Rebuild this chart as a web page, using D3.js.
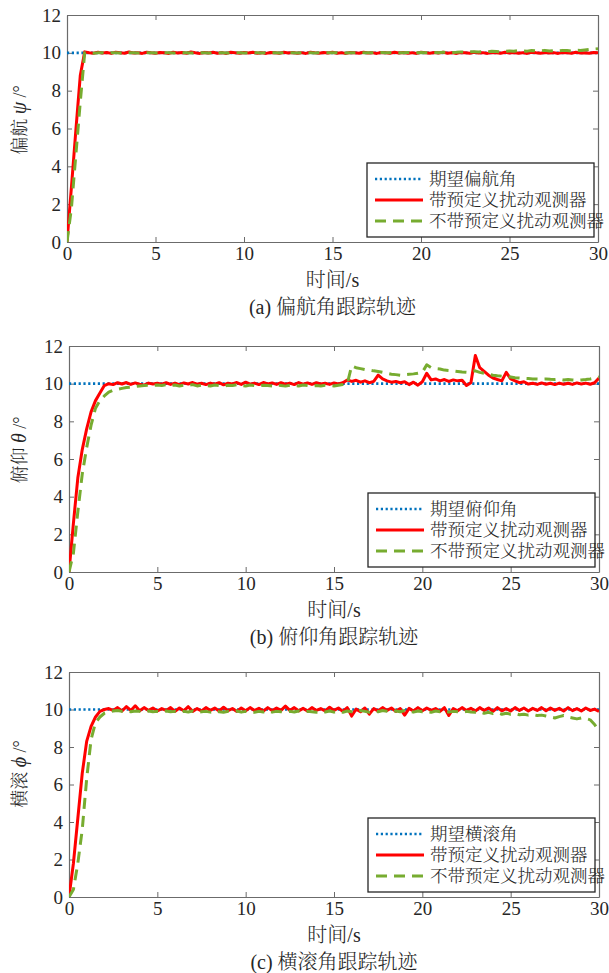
<!DOCTYPE html>
<html>
<head>
<meta charset="utf-8">
<script src="https://cdn.jsdelivr.net/npm/d3@7"></script>
<style>
  body { margin: 0; background: #fff; }
</style>
</head>
<body>
<script>
// sampling grid: 0..30 s every 0.25 s
const time = d3.range(0, 30.001, 0.25);

const xTicks = [0, 5, 10, 15, 20, 25, 30];
const yTicks = [0, 2, 4, 6, 8, 10, 12];
const desired = 10;

// (a) yaw
const yawWith = [
  0, 2.9, 5.9, 8.8, 10.05, 10.0, 9.98, 10.03, 9.99, 10.02,
  9.97, 10.03, 10.0, 9.98, 10.04, 9.99, 10.01, 9.97, 10.03, 10.0,
  9.98, 10.02, 10.0, 9.97, 10.03, 9.99, 10.02, 9.98, 10.04, 10.0,
  9.97, 10.02, 9.99, 10.03, 9.98, 10.01, 9.97, 10.03, 10.0, 9.98,
  10.02, 9.99, 10.03, 9.98, 10.01, 9.97, 10.02, 10.0, 9.98, 10.03,
  9.99, 10.02, 9.98, 10.01, 9.97, 10.03, 10.0, 9.98, 10.02, 9.99,
  10.03, 9.98, 10.01, 9.97, 10.02, 10.0, 9.98, 10.03, 9.99, 10.01,
  9.97, 10.02, 10.0, 9.98, 10.03, 9.99, 10.02, 9.98, 10.01, 9.97,
  10.03, 10.0, 9.98, 10.02, 9.99, 10.03, 9.98, 10.01, 9.97, 10.02,
  10.0, 9.98, 10.03, 9.99, 10.01, 9.97, 10.02, 10.0, 9.98, 10.03,
  9.99, 10.02, 9.98, 10.01, 9.97, 10.03, 10.0, 9.98, 10.02, 9.99,
  10.01, 9.97, 10.02, 10.0, 9.98, 10.03, 9.99, 10.01, 9.98, 10.02, 10.0
];
const yawWithout = [
  0, 1.8, 4.6, 7.4, 10.0, 10.0, 9.98, 10.0, 10.01, 9.99,
  10.0, 10.01, 9.99, 10.0, 10.01, 10.0, 9.99, 10.0, 10.01, 10.0,
  9.99, 10.0, 10.01, 10.0, 9.99, 10.0, 10.01, 10.0, 9.99, 10.0,
  10.01, 10.0, 9.99, 10.0, 10.01, 10.0, 9.99, 10.0, 10.01, 10.0,
  9.99, 10.0, 10.01, 10.0, 9.99, 10.0, 10.01, 10.0, 9.99, 10.0,
  10.01, 10.0, 9.99, 10.0, 10.01, 10.0, 9.99, 10.0, 10.01, 10.0,
  10.0, 10.01, 10.0, 9.99, 10.0, 10.01, 10.0, 10.0, 10.01, 10.0,
  10.01, 10.02, 10.0, 10.01, 10.02, 10.0, 10.01, 10.02, 10.01, 10.0,
  10.02, 10.01, 10.03, 10.02, 10.01, 10.03, 10.04, 10.02, 10.03, 10.05,
  10.04, 10.05, 10.06, 10.05, 10.07, 10.06, 10.08, 10.07, 10.06, 10.08,
  10.1, 10.08, 10.12, 10.1, 10.09, 10.12, 10.1, 10.11, 10.13, 10.1,
  10.12, 10.1, 10.13, 10.12, 10.1, 10.14, 10.12, 10.15, 10.18, 10.2, 10.22
];

// (b) pitch
const pitchWith = [
  0, 2.6, 5.0, 6.5, 7.6, 8.5, 9.1, 9.5, 9.9, 10.0,
  9.95, 10.05, 9.98, 10.06, 9.96, 10.04, 9.97, 9.92, 10.03, 9.98,
  10.02, 9.97, 10.05, 9.96, 10.03, 9.95, 10.04, 9.98, 10.06, 9.97,
  10.02, 9.95, 10.03, 9.97, 10.05, 9.94, 10.02, 9.98, 10.06, 9.96,
  10.08, 9.97, 10.03, 9.95, 10.06, 9.98, 10.04, 9.96, 10.05, 9.97,
  10.03, 9.95, 10.06, 9.97, 10.04, 9.96, 10.05, 9.98, 10.02, 9.96,
  10.04, 9.98, 10.05, 10.2, 10.12, 10.18, 10.08, 10.15, 10.05, 10.12,
  10.45, 10.25, 10.15, 10.08, 10.12, 10.05, 10.1, 9.95, 10.08, 9.92,
  10.1, 10.55, 10.2, 10.25, 10.15, 10.22, 10.12, 10.2, 10.15, 10.18,
  9.9, 10.05, 11.5, 10.85, 10.65, 10.45, 10.3, 10.22, 10.15, 10.6,
  10.25, 10.15, 10.05, 10.1, 9.98, 10.02, 9.96, 10.04, 9.97, 10.02,
  9.95, 10.03, 9.97, 10.02, 9.96, 10.04, 9.98, 10.03, 9.97, 10.05, 10.3
];
const pitchWithout = [
  0, 1.0, 3.2, 5.2, 6.6, 7.8, 8.7, 9.1, 9.35, 9.55,
  9.65, 9.7, 9.75, 9.8, 9.82, 9.85, 9.88, 9.9, 9.92, 9.9,
  9.93, 9.9, 9.95, 9.9, 9.93, 9.88, 9.92, 9.9, 9.95, 9.88,
  9.92, 9.9, 9.88, 9.93, 9.9, 9.87, 9.92, 9.9, 9.95, 9.9,
  9.88, 9.93, 9.9, 9.87, 9.92, 9.9, 9.88, 9.93, 9.9, 9.87,
  9.92, 9.9, 9.88, 9.93, 9.9, 9.87, 9.9, 9.88, 9.92, 9.9,
  9.88, 9.92, 9.95, 10.0, 10.95, 10.85, 10.8, 10.75, 10.72, 10.68,
  10.65, 10.6, 10.55, 10.5, 10.48, 10.45, 10.47, 10.5, 10.52, 10.55,
  10.6, 11.0, 10.85, 10.8, 10.78, 10.72, 10.7, 10.68, 10.65, 10.62,
  10.6, 10.65, 10.68, 10.6, 10.55, 10.5, 10.45, 10.42, 10.4, 10.38,
  10.35, 10.32, 10.3, 10.28, 10.27, 10.25, 10.25, 10.24, 10.25, 10.23,
  10.22, 10.24, 10.2, 10.22, 10.2, 10.18, 10.2, 10.22, 10.25, 10.3, 10.35
];

// (c) roll
const rollWith = [
  0, 1.8, 4.2, 6.6, 8.3, 9.1, 9.6, 9.9, 10.0, 10.05,
  9.95, 10.1, 9.92, 10.15, 9.95, 10.2, 9.93, 10.1, 9.95, 10.08,
  9.92, 10.05, 9.95, 10.1, 9.9, 10.08, 9.93, 10.15, 9.9, 10.05,
  9.92, 10.1, 9.95, 10.08, 9.92, 10.12, 9.94, 10.05, 9.9, 10.08,
  9.93, 10.1, 9.95, 10.06, 9.92, 10.1, 9.94, 10.08, 9.95, 10.18,
  9.95, 10.1, 9.93, 10.06, 9.92, 10.1, 9.95, 10.05, 9.93, 10.12,
  9.95, 10.08, 9.9, 10.1, 9.65, 10.02, 9.88, 10.08, 9.75, 10.05,
  9.93, 10.1, 9.95, 10.08, 9.9, 10.05, 9.7, 10.06, 9.92, 10.1,
  9.93, 10.08, 9.95, 10.05, 9.9, 10.1, 9.68, 10.05, 9.93, 10.1,
  9.95, 10.06, 9.92, 10.1, 9.95, 10.08, 9.9, 10.1, 9.93, 10.05,
  9.92, 10.1, 9.95, 10.08, 9.92, 10.06, 9.95, 10.1, 9.93, 10.08,
  9.95, 10.06, 9.92, 10.1, 9.94, 10.05, 9.92, 10.08, 9.95, 10.02, 9.9
];
const rollWithout = [
  0, 0.4, 1.8, 3.6, 6.3, 8.4, 9.3, 9.6, 9.8, 9.88,
  9.92, 9.95, 9.9, 9.93, 9.88, 9.92, 9.9, 9.85, 9.92, 9.88,
  9.9, 9.85, 9.92, 9.88, 9.9, 9.85, 9.9, 9.87, 9.92, 9.85,
  9.88, 9.9, 9.86, 9.92, 9.88, 9.85, 9.9, 9.87, 9.92, 9.86,
  9.9, 9.88, 9.85, 9.9, 9.87, 9.92, 9.86, 9.9, 9.88, 9.85,
  9.9, 9.87, 9.92, 9.86, 9.9, 9.88, 9.85, 9.9, 9.87, 9.92,
  9.86, 9.9, 9.85, 9.92, 9.88, 9.85, 9.95, 9.9, 9.85, 9.92,
  9.88, 9.95, 9.9, 9.85, 9.92, 9.88, 9.95, 9.9, 9.86, 9.92,
  9.88, 9.9, 9.85, 9.92, 9.88, 9.9, 9.86, 9.9, 9.88, 9.85,
  9.9, 9.87, 9.85, 9.88, 9.8, 9.85, 9.78, 9.82, 9.75, 9.8,
  9.75, 9.78, 9.72, 9.75, 9.7, 9.73, 9.68, 9.7, 9.65, 9.6,
  9.55, 9.62, 9.68, 9.6, 9.55, 9.5, 9.55, 9.52, 9.45, 9.2, 8.85
];

const legendNames = ['带预定义扰动观测器', '不带预定义扰动观测器'];

const panels = [
  { left: 67, top: 15, right: 598, bottom: 242, sym: 'ψ', name: '偏航', angle: '偏航角', tag: '(a)',
    withObs: yawWith, withoutObs: yawWithout, labelY: 120 },
  { left: 69, top: 346, right: 599, bottom: 572, sym: 'θ', name: '俯仰', angle: '俯仰角', tag: '(b)',
    withObs: pitchWith, withoutObs: pitchWithout, labelY: 450 },
  { left: 69, top: 672, right: 599, bottom: 897, sym: 'ϕ', name: '横滚', angle: '横滚角', tag: '(c)',
    withObs: rollWith, withoutObs: rollWithout, labelY: 774 }
];

const colors = { ref: '#0072BD', with: '#FF0000', without: '#77AC30' };
const styles = {
  ref: { width: 2.6, dash: '2.2,2.6' },
  with: { width: 3, dash: null },
  without: { width: 3, dash: '11,7' }
};

const serif = "'Liberation Serif', 'Times New Roman', Tinos, 'Noto Serif CJK SC', 'Noto Sans CJK SC', serif";

let svg = d3.select('body').append('svg').attr('width', 609).attr('height', 973);

panels.forEach((p, i) => {
  let x = d3.scaleLinear().domain([0, 30]).range([p.left, p.right]);
  let y = d3.scaleLinear().domain([0, 12]).range([p.bottom, p.top]);
  let g = svg.append('g');

  let clipId = 'clip' + i;
  g.append('clipPath').attr('id', clipId).append('rect')
    .attr('x', p.left).attr('y', p.top)
    .attr('width', p.right - p.left).attr('height', p.bottom - p.top);

  // Axes with inward ticks on all sides
  let axisStyle = sel => {
    sel.attr('font-family', null).attr('font-size', null);
    sel.select('.domain').attr('stroke', '#6b6b6b').attr('stroke-width', 1.2);
    sel.selectAll('.tick line').attr('stroke', '#6b6b6b').attr('stroke-width', 1);
    sel.selectAll('.tick text').style('font-size', '19px').attr('fill', '#262626');
  };
  g.append('g').attr('transform', `translate(0,${p.bottom})`)
    .call(d3.axisBottom(x).tickValues(xTicks).tickSizeInner(-5).tickSizeOuter(0).tickPadding(5))
    .call(axisStyle);
  g.append('g').attr('transform', `translate(0,${p.top})`)
    .call(d3.axisTop(x).tickValues(xTicks).tickSizeInner(-5).tickSizeOuter(0).tickFormat(''))
    .call(axisStyle);
  g.append('g').attr('transform', `translate(${p.left},0)`)
    .call(d3.axisLeft(y).tickValues(yTicks).tickSizeInner(-5).tickSizeOuter(0).tickPadding(6))
    .call(axisStyle);
  g.append('g').attr('transform', `translate(${p.right},0)`)
    .call(d3.axisRight(y).tickValues(yTicks).tickSizeInner(-5).tickSizeOuter(0).tickFormat(''))
    .call(axisStyle);

  // Lines
  let line = d3.line().x(d => x(d[0])).y(d => y(d[1]));
  let series = [
    { key: 'ref', data: time.map(t => [t, desired]) },
    { key: 'with', data: time.map((t, k) => [t, p.withObs[k]]) },
    { key: 'without', data: time.map((t, k) => [t, p.withoutObs[k]]) }
  ];
  g.append('g').attr('clip-path', `url(#${clipId})`)
    .selectAll('path').data(series).enter().append('path')
    .attr('d', d => line(d.data))
    .attr('fill', 'none')
    .attr('stroke', d => colors[d.key])
    .attr('stroke-width', d => styles[d.key].width)
    .attr('stroke-dasharray', d => styles[d.key].dash)
    .attr('stroke-linejoin', 'round');

  // Legend
  let lw = 227, lh = 74;
  let lx = p.right - 4 - lw, ly = p.bottom - 5 - lh;
  let legend = g.append('g').attr('transform', `translate(${lx},${ly})`);
  legend.append('rect').attr('width', lw).attr('height', lh)
    .attr('fill', '#fff').attr('stroke', '#262626').attr('stroke-width', 1.3);
  let entries = [
    { key: 'ref', label: '期望' + p.angle },
    { key: 'with', label: legendNames[0] },
    { key: 'without', label: legendNames[1] }
  ];
  entries.forEach((e, k) => {
    let cy = 16 + k * 21;
    legend.append('line').attr('x1', 8).attr('x2', 56).attr('y1', cy).attr('y2', cy)
      .attr('stroke', colors[e.key])
      .attr('stroke-width', styles[e.key].width)
      .attr('stroke-dasharray', styles[e.key].dash);
    legend.append('text').attr('x', 62).attr('y', cy).attr('dy', '0.36em')
      .style('font-size', '17.5px').text(e.label);
  });

  // Y label
  let yl = g.append('text')
    .attr('transform', `translate(20,${p.labelY}) rotate(-90)`)
    .attr('text-anchor', 'middle').attr('dy', '0.35em')
    .style('font-size', '18px');
  yl.append('tspan').text(p.name + ' ');
  yl.append('tspan').style('font-style', 'italic').style('font-size', '20px').text(p.sym);
  yl.append('tspan').text(' /°');

  // X label and caption
  let cx = (p.left + p.right) / 2;
  g.append('text').attr('x', cx).attr('y', p.bottom + 45)
    .attr('text-anchor', 'middle').style('font-size', '20px').text('时间/s');
  g.append('text').attr('x', cx).attr('y', p.bottom + 72)
    .attr('text-anchor', 'middle').style('font-size', '20px').text(p.tag + ' ' + p.angle + '跟踪轨迹');
});

svg.selectAll('text').style('font-family', serif).style('font-weight', 300).attr('fill', '#262626');
</script>
</body>
</html>
